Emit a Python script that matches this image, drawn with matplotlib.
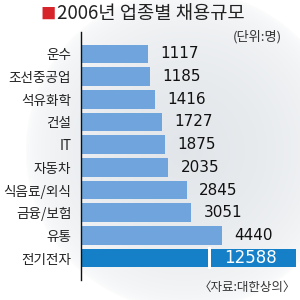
import numpy as np
import matplotlib.pyplot as plt
from matplotlib.patches import Rectangle

plt.rcParams['font.family'] = ['Noto Sans CJK KR', 'DejaVu Sans']

industries = ['운수', '조선중공업', '석유화학', '건설', 'IT', '자동차',
              '식음료/외식', '금융/보험', '유통', '전기전자']
hires = [1117, 1185, 1416, 1727, 1875, 2035, 2845, 3051, 4440, 12588]

light_blue = '#6fa5dc'
dark_blue = '#1580c8'

fig = plt.figure(figsize=(3, 3), dpi=100)
fig.patch.set_facecolor('white')

# soft round gray shading behind the chart
bg = fig.add_axes([0, 0, 1, 1], zorder=0)
yy, xx = np.mgrid[0:300, 0:300]
r = np.sqrt((xx - 185) ** 2 + (yy - 150) ** 2) / 160.0
shade = np.clip(1 - r, 0, 1) ** 0.4
base = np.array([1.0, 1.0, 1.0])
gray = np.array([0.885, 0.90, 0.915])
img = base + (gray - base) * shade[..., None]
bg.imshow(img, extent=[0, 1, 0, 1], aspect='auto', interpolation='bilinear')
bg.axis('off')

ax = fig.add_axes([81 / 300, 20 / 300, 215 / 300, 248 / 300], zorder=1)
ax.patch.set_alpha(0)

x0 = -1888
y = np.arange(len(hires))
colors = [light_blue] * (len(hires) - 1) + [dark_blue]
widths = [v - x0 for v in hires]
ax.barh(y, widths, left=x0, height=0.82, color=colors, zorder=2)
ax.set_xlim(x0, 7753)
ax.set_ylim(9.97, -0.97)

for i, v in enumerate(hires[:-1]):
    ax.annotate(str(v), (v, i), xytext=(9, 0), textcoords='offset points',
                va='center', ha='left', fontsize=11,
                family='Liberation Sans Narrow', color='#111111')

# break in the long bar
ax.add_patch(Rectangle((0.59, 8.5), 0.014, 1.0, transform=ax.get_yaxis_transform(),
                       facecolor='white', edgecolor='none', zorder=3))
ax.text(0.79, 9, str(hires[-1]), transform=ax.get_yaxis_transform(),
        ha='center', va='center', fontsize=12, color='white',
        family='Liberation Sans Narrow', zorder=4)

ax.set_yticks(y)
ax.set_yticklabels(industries, fontsize=9.8, color='#222222')
ax.tick_params(axis='y', length=0, pad=7)
ax.set_xticks([])
for s in ['top', 'right', 'bottom']:
    ax.spines[s].set_visible(False)
ax.spines['left'].set_color('#111111')
ax.spines['left'].set_linewidth(1.0)

fig.text(40 / 300, 1 - 14 / 300, '■', color='#d7232a', fontsize=11,
         va='center', ha='left')
fig.text(57 / 300, 1 - 14 / 300, '2006년 업종별 채용규모', fontsize=13.5,
         fontweight='medium', color='#222222', va='center', ha='left')
fig.text(282 / 300, 1 - 37 / 300, '(단위:명)', fontsize=9.5, color='#333333',
         va='center', ha='right')
fig.text(296 / 300, 1 - 287 / 300, '〈자료:대한상의〉', fontsize=9, color='#333333',
         va='center', ha='right')

fig.savefig('out.png', dpi=100)
